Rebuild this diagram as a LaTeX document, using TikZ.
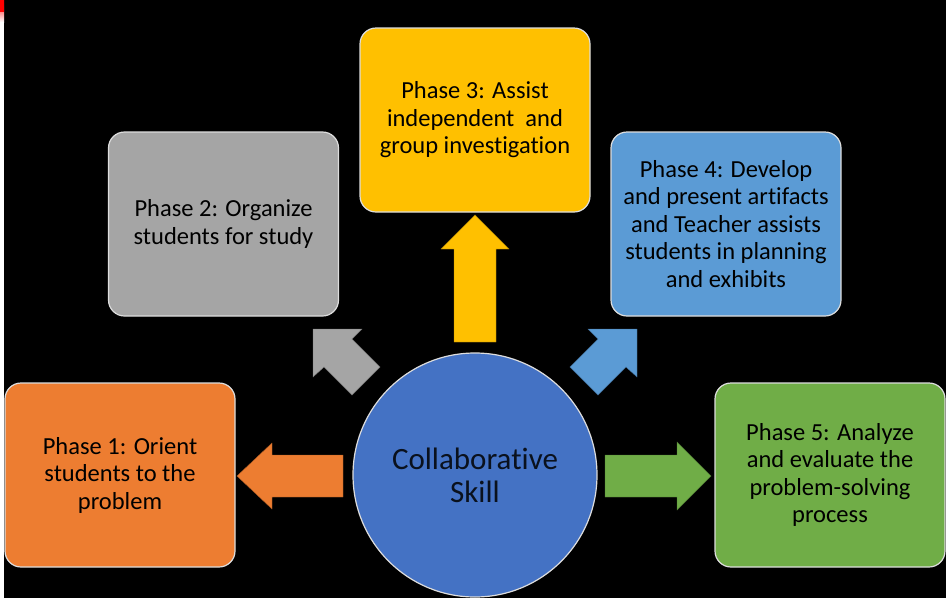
\documentclass[tikz,border=0pt]{standalone}
\usepackage{fontspec}
\setmainfont[Ligatures=NoCommon]{Carlito}
\definecolor{cOrange}{HTML}{ED7D31}
\definecolor{cGray}{HTML}{A5A5A5}
\definecolor{cYellow}{HTML}{FFC000}
\definecolor{cBlue}{HTML}{5B9BD5}
\definecolor{cGreen}{HTML}{70AD47}
\definecolor{cCircle}{HTML}{4472C4}
\definecolor{cEdge}{HTML}{DDDDDD}
\begin{document}
\begin{tikzpicture}[x=1pt,y=-1pt,
  phase/.style={draw=cEdge, line width=1.2pt, rounded corners=16pt,
    minimum width=230pt, minimum height=184pt, align=center,
    font=\fontsize{24.5}{27.5}\selectfont, text=black},
  blockarrow/.style={line width=0.4pt}]
\fill[black] (0,0) rectangle (946,598);
\useasboundingbox (0,0) rectangle (946,598);
\fill[white] (0,0) rectangle (4,598);
\shade[top color=red, bottom color=white] (0,0) rectangle (4,22);
\fill[red] (0,0) rectangle (4,12);

% boxes
\node[phase, fill=cYellow] (p3) at (475,120) {Phase 3: Assist\\independent\ \ and\\group investigation};
\node[phase, fill=cGray] (p2) at (223.5,224) {Phase 2: Organize\\students for study};
\node[phase, fill=cBlue] (p4) at (726,224) {Phase 4: Develop\\and present artifacts\\and Teacher assists\\students in planning\\and exhibits};
\node[phase, fill=cOrange] (p1) at (120,475) {Phase 1: Orient\\students to the\\problem};
\node[phase, fill=cGreen] (p5) at (830,475) {Phase 5: Analyze\\and evaluate the\\problem-solving\\process};

% circle
\node[circle, draw=cEdge, line width=1.2pt, fill=cCircle, minimum size=244pt,
  align=center, font=\fontsize{31}{33}\selectfont, text=black!85!cCircle] (c) at (475,475)
  {Collaborative\\Skill};

% arrows
\fill[cYellow, draw=cYellow!70!black, blockarrow]
  (454,342) -- (454,249) -- (441,249) -- (475,215) -- (509,249) -- (496,249) -- (496,342) -- cycle;
\fill[cOrange, draw=cOrange!70!black, blockarrow]
  (343,455) -- (272,455) -- (272,443) -- (237,476) -- (272,509) -- (272,497) -- (343,497) -- cycle;
\fill[cGreen, draw=cGreen!70!black, blockarrow]
  (605,455) -- (677,455) -- (677,442) -- (711,476) -- (677,510) -- (677,497) -- (605,497) -- cycle;
\fill[cGray, draw=cGray!70!black, blockarrow]
  (313,329) -- (362,329) -- (352,339) -- (380,367) -- (352,395) -- (324,367) -- (313,377) -- cycle;
\fill[cBlue, draw=cBlue!70!black, blockarrow]
  (637,329) -- (588,329) -- (598,339) -- (570,367) -- (598,395) -- (626,367) -- (637,377) -- cycle;
\end{tikzpicture}
\end{document}
